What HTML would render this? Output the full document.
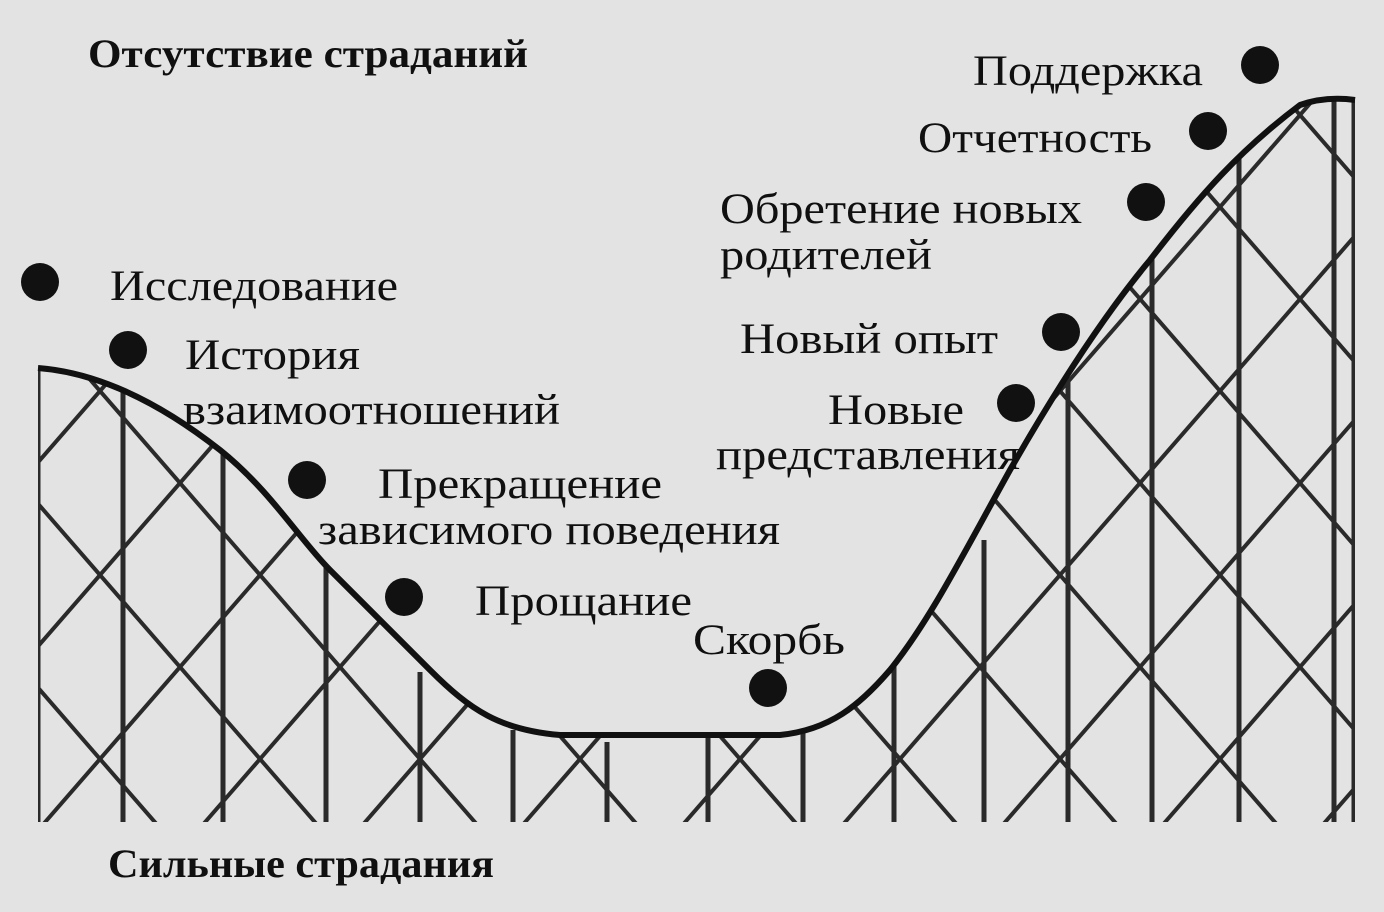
<!DOCTYPE html>
<html><head><meta charset="utf-8"><style>
html,body{margin:0;padding:0;background:#e3e3e3;}
svg{display:block}
text{font-family:"Liberation Serif",serif;fill:#101010;}
</style></head><body>
<svg width="1384" height="912" viewBox="0 0 1384 912" xmlns="http://www.w3.org/2000/svg">
<defs>
<clipPath id="under">
<path d="M38,368 C90,372 150,395 220,450 C270,490 300,540 330,570 C370,610 400,640 430,670 C470,710 500,730 560,735 L780,735 C830,730 860,705 890,670 C930,620 960,560 1010,470 C1050,400 1100,320 1150,260 C1200,195 1240,150 1300,105 C1320,98 1340,98 1355,100 L1355,822 L38,822 Z"/>
</clipPath>
</defs>
<rect width="1384" height="912" fill="#e3e3e3"/>
<g clip-path="url(#under)" stroke="#2a2a2a" stroke-width="4" fill="none">
<g>
<line x1="-400" y1="0" x2="400" y2="920"/>
<line x1="-240" y1="0" x2="560" y2="920"/>
<line x1="-80" y1="0" x2="720" y2="920"/>
<line x1="80" y1="0" x2="880" y2="920"/>
<line x1="240" y1="0" x2="1040" y2="920"/>
<line x1="400" y1="0" x2="1200" y2="920"/>
<line x1="560" y1="0" x2="1360" y2="920"/>
<line x1="720" y1="0" x2="1520" y2="920"/>
<line x1="880" y1="0" x2="1680" y2="920"/>
<line x1="1040" y1="0" x2="1840" y2="920"/>
<line x1="1200" y1="0" x2="2000" y2="920"/>
<line x1="-560" y1="0" x2="240" y2="920"/>
<line x1="-720" y1="0" x2="80" y2="920"/>
</g>
<g>
<line x1="-360" y1="920" x2="440" y2="0"/>
<line x1="-200" y1="920" x2="600" y2="0"/>
<line x1="-40" y1="920" x2="760" y2="0"/>
<line x1="120" y1="920" x2="920" y2="0"/>
<line x1="280" y1="920" x2="1080" y2="0"/>
<line x1="440" y1="920" x2="1240" y2="0"/>
<line x1="600" y1="920" x2="1400" y2="0"/>
<line x1="760" y1="920" x2="1560" y2="0"/>
<line x1="920" y1="920" x2="1720" y2="0"/>
<line x1="1080" y1="920" x2="1880" y2="0"/>
<line x1="1240" y1="920" x2="2040" y2="0"/>
<line x1="1400" y1="920" x2="2200" y2="0"/>
</g>
<g stroke-width="5">
<line x1="38" y1="360" x2="38" y2="822"/>
<line x1="123" y1="380" x2="123" y2="822"/>
<line x1="223" y1="440" x2="223" y2="822"/>
<line x1="326" y1="560" x2="326" y2="822"/>
<line x1="420" y1="672" x2="420" y2="822"/>
<line x1="513" y1="730" x2="513" y2="822"/>
<line x1="607" y1="742" x2="607" y2="822"/>
<line x1="708" y1="735" x2="708" y2="822"/>
<line x1="803" y1="730" x2="803" y2="822"/>
<line x1="894" y1="650" x2="894" y2="822"/>
<line x1="984" y1="540" x2="984" y2="822"/>
<line x1="1068" y1="380" x2="1068" y2="822"/>
<line x1="1152" y1="240" x2="1152" y2="822"/>
<line x1="1239" y1="150" x2="1239" y2="822"/>
<line x1="1334" y1="100" x2="1334" y2="822"/>
<line x1="1354" y1="100" x2="1354" y2="822"/>
</g>
</g>
<path d="M38,368 C90,372 150,395 220,450 C270,490 300,540 330,570 C370,610 400,640 430,670 C470,710 500,730 560,735 L780,735 C830,730 860,705 890,670 C930,620 960,560 1010,470 C1050,400 1100,320 1150,260 C1200,195 1240,150 1300,105 C1320,98 1340,98 1355,100" fill="none" stroke="#111" stroke-width="6"/>
<g fill="#111">
<circle cx="40" cy="282" r="19"/>
<circle cx="128" cy="350" r="19"/>
<circle cx="307" cy="480" r="19"/>
<circle cx="404" cy="597" r="19"/>
<circle cx="768" cy="688" r="19"/>
<circle cx="1260" cy="65" r="19"/>
<circle cx="1208" cy="131" r="19"/>
<circle cx="1146" cy="202" r="19"/>
<circle cx="1061" cy="332" r="19"/>
<circle cx="1016" cy="403" r="19"/>
</g>
<g font-size="43">
<text x="88" y="67" font-weight="bold" font-size="40" textLength="440" lengthAdjust="spacingAndGlyphs">Отсутствие страданий</text>
<text x="108" y="877" font-weight="bold" font-size="40" textLength="386" lengthAdjust="spacingAndGlyphs">Сильные страдания</text>
<text x="110" y="300" textLength="288" lengthAdjust="spacingAndGlyphs">Исследование</text>
<text x="185" y="369" textLength="175" lengthAdjust="spacingAndGlyphs">История</text>
<text x="183" y="424" textLength="377" lengthAdjust="spacingAndGlyphs">взаимоотношений</text>
<text x="378" y="498" textLength="284" lengthAdjust="spacingAndGlyphs">Прекращение</text>
<text x="318" y="544" textLength="462" lengthAdjust="spacingAndGlyphs">зависимого поведения</text>
<text x="475" y="615" textLength="217" lengthAdjust="spacingAndGlyphs">Прощание</text>
<text x="693" y="654" textLength="152" lengthAdjust="spacingAndGlyphs">Скорбь</text>
<text x="973" y="85" textLength="230" lengthAdjust="spacingAndGlyphs">Поддержка</text>
<text x="918" y="152" textLength="234" lengthAdjust="spacingAndGlyphs">Отчетность</text>
<text x="720" y="223" textLength="362" lengthAdjust="spacingAndGlyphs">Обретение новых</text>
<text x="720" y="269" textLength="212" lengthAdjust="spacingAndGlyphs">родителей</text>
<text x="740" y="353" textLength="258" lengthAdjust="spacingAndGlyphs">Новый опыт</text>
<text x="828" y="424" textLength="136" lengthAdjust="spacingAndGlyphs">Новые</text>
<text x="716" y="469" textLength="304" lengthAdjust="spacingAndGlyphs">представления</text>
</g>
</svg>
</body></html>
